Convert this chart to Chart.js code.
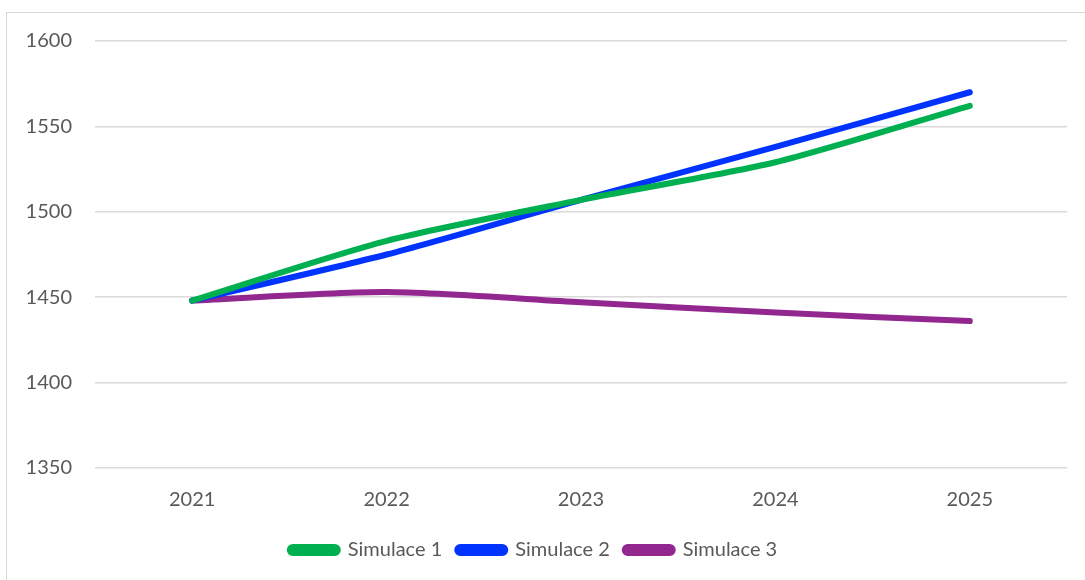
<!DOCTYPE html>
<html>
<head>
<meta charset="utf-8">
<script src="https://cdn.jsdelivr.net/npm/chart.js@4/dist/chart.umd.min.js"></script>
<style>
  html, body { margin: 0; padding: 0; background: #fff; }
  #wrap { position: relative; width: 1085px; height: 580px; overflow: hidden; }
  #frame { position: absolute; left: 6px; top: 12px; width: 1200px; height: 700px; border: 1px solid #d9d9d9; }
  #chart { position: absolute; left: 0; top: 0; }
</style>
</head>
<body>
<div id="wrap">
  <div id="frame"></div>
  <canvas id="chart" width="1085" height="580"></canvas>
</div>
<script>
// values
const years = ['2021', '2022', '2023', '2024', '2025'];
const simulace1 = [1448, 1483, 1507, 1529, 1562];
const simulace2 = [1448, 1475, 1507, 1538, 1570];
const simulace3 = [1448, 1453, 1447, 1441, 1436];
const seriesNames = ['Simulace 1', 'Simulace 2', 'Simulace 3'];
const yTicks = [1350, 1400, 1450, 1500, 1550, 1600];

const colors = ['#00b050', '#0033ff', '#92278f'];
const fontFamily = 'Lato, "Liberation Sans", sans-serif';
const textColor = '#595959';

const makeSet = (label, data, color) => ({
    label: label,
    data: data,
    borderColor: color,
    backgroundColor: color,
    borderWidth: 6,
    borderCapStyle: 'round',
    borderJoinStyle: 'round',
    pointRadius: 0,
    pointHoverRadius: 0,
    tension: 0.25,
    fill: false
});

const ctx = document.getElementById('chart').getContext('2d');
new Chart(ctx, {
    type: 'line',
    data: {
        labels: years,
        datasets: [
            makeSet(seriesNames[0], simulace1, colors[0]),
            makeSet(seriesNames[1], simulace2, colors[1]),
            makeSet(seriesNames[2], simulace3, colors[2])
        ]
    },
    options: {
        responsive: false,
        animation: false,
        layout: {
            padding: { left: 0, right: 18, top: 41, bottom: 10 }
        },
        plugins: {
            tooltip: { enabled: false },
            legend: {
                position: 'bottom',
                labels: {
                    color: textColor,
                    font: { family: fontFamily, size: 20 },
                    boxWidth: 48,
                    boxHeight: 6,
                    useBorderRadius: true,
                    borderRadius: 3,
                    padding: 15
                }
            }
        },
        scales: {
            x: {
                offset: true,
                afterFit: (scale) => { scale.height -= 7; },
                grid: { display: false, drawTicks: false },
                border: { display: false },
                ticks: {
                    color: textColor,
                    font: { family: fontFamily, size: 20 },
                    padding: 20,
                    maxRotation: 0
                }
            },
            y: {
                min: yTicks[0],
                max: yTicks[yTicks.length - 1],
                afterFit: (scale) => { scale.width = 95; },
                afterBuildTicks: (scale) => { scale.ticks = yTicks.map(v => ({ value: v })); },
                grid: { color: '#d9d9d9', lineWidth: 1.5, drawTicks: false },
                border: { display: false },
                ticks: {
                    color: textColor,
                    font: { family: fontFamily, size: 20 },
                    padding: 23,
                    callback: (value) => String(value)
                }
            }
        }
    }
});
</script>
</body>
</html>
